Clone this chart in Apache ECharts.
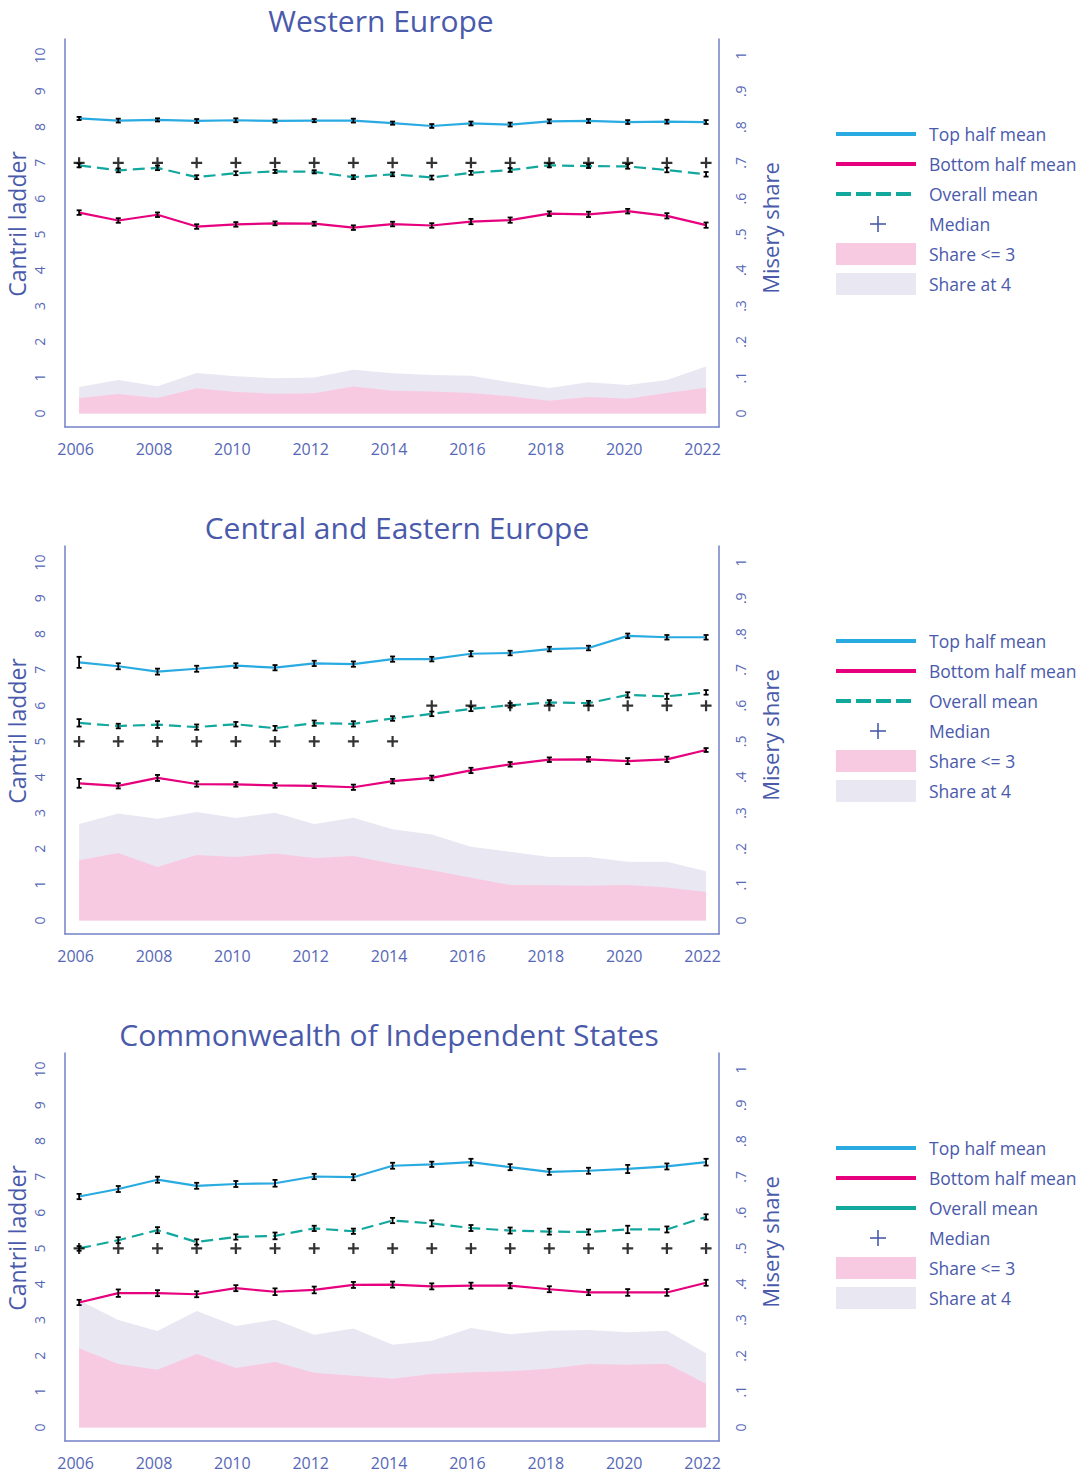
<!DOCTYPE html>
<html><head><meta charset="utf-8">
<script src="https://cdn.jsdelivr.net/npm/echarts@6/dist/echarts.min.js"></script>
<style>html,body{margin:0;padding:0;background:#fff}#c{width:1088px;height:1475px}</style>
</head><body><div id="c"></div>
<script>
// ---------- DATA ----------
const years = [2006,2007,2008,2009,2010,2011,2012,2013,2014,2015,2016,2017,2018,2019,2020,2021,2022];
const xTicks = [2006,2008,2010,2012,2014,2016,2018,2020,2022];
const ladderTicks = [0,1,2,3,4,5,6,7,8,9,10];
const shareTicks = [0,0.1,0.2,0.3,0.4,0.5,0.6,0.7,0.8,0.9,1];
const regionTitles = ['Western Europe','Central and Eastern Europe','Commonwealth of Independent States'];
const legendLabels = ['Top half mean','Bottom half mean','Overall mean','Median','Share <= 3','Share at 4'];

// Western Europe
const weTop      = [8.24,8.18,8.20,8.17,8.19,8.17,8.18,8.18,8.11,8.03,8.10,8.07,8.16,8.17,8.14,8.15,8.14];
const weTopErr   = [0.03,0.04,0.03,0.04,0.04,0.03,0.03,0.04,0.03,0.04,0.04,0.04,0.04,0.04,0.04,0.04,0.04];
const weOverall  = [6.93,6.79,6.86,6.60,6.71,6.76,6.75,6.60,6.68,6.59,6.72,6.80,6.93,6.91,6.90,6.80,6.68];
const weOverallErr=[0.04,0.04,0.05,0.04,0.04,0.03,0.03,0.04,0.04,0.04,0.04,0.04,0.04,0.04,0.05,0.05,0.05];
const weBottom   = [5.61,5.39,5.55,5.22,5.28,5.31,5.30,5.19,5.29,5.25,5.36,5.40,5.58,5.56,5.65,5.52,5.26];
const weBottomErr= [0.05,0.05,0.05,0.05,0.05,0.04,0.04,0.05,0.05,0.05,0.06,0.06,0.05,0.06,0.05,0.06,0.06];
const weMedian   = [7,7,7,7,7,7,7,7,7,7,7,7,7,7,7,7,7];
const weShare3   = [0.043,0.054,0.043,0.070,0.060,0.055,0.056,0.075,0.063,0.061,0.057,0.048,0.035,0.046,0.041,0.057,0.072];
const weShare4   = [0.031,0.039,0.033,0.043,0.044,0.043,0.044,0.047,0.049,0.046,0.048,0.039,0.036,0.041,0.038,0.036,0.059];

// Central and Eastern Europe
const ceeTop      = [7.21,7.10,6.95,7.03,7.12,7.06,7.18,7.16,7.30,7.30,7.45,7.47,7.58,7.61,7.95,7.91,7.91];
const ceeTopErr   = [0.14,0.07,0.07,0.07,0.05,0.06,0.06,0.06,0.06,0.05,0.06,0.05,0.05,0.05,0.05,0.05,0.05];
const ceeOverall  = [5.52,5.43,5.47,5.40,5.48,5.37,5.51,5.49,5.64,5.77,5.91,6.01,6.09,6.07,6.30,6.26,6.37];
const ceeOverallErr=[0.09,0.05,0.08,0.06,0.05,0.05,0.06,0.06,0.05,0.05,0.05,0.05,0.05,0.05,0.06,0.06,0.05];
const ceeBottom   = [3.83,3.76,3.98,3.81,3.80,3.77,3.76,3.72,3.89,3.98,4.19,4.36,4.49,4.50,4.45,4.50,4.76];
const ceeBottomErr= [0.11,0.06,0.07,0.06,0.05,0.05,0.05,0.06,0.05,0.05,0.06,0.05,0.05,0.05,0.07,0.06,0.04];
const ceeMedian   = [5,5,5,5,5,5,5,5,5,6,6,6,6,6,6,6,6];
const ceeShare3   = [0.168,0.188,0.149,0.183,0.177,0.187,0.174,0.180,0.158,0.140,0.119,0.099,0.098,0.097,0.099,0.092,0.079];
const ceeShare4   = [0.101,0.111,0.135,0.120,0.109,0.114,0.095,0.107,0.097,0.100,0.087,0.093,0.079,0.080,0.065,0.072,0.058];

// Commonwealth of Independent States
const cisTop      = [6.45,6.66,6.92,6.75,6.80,6.82,7.01,6.99,7.31,7.35,7.41,7.27,7.14,7.17,7.22,7.29,7.41];
const cisTopErr   = [0.06,0.07,0.07,0.07,0.07,0.08,0.06,0.07,0.07,0.06,0.08,0.07,0.07,0.07,0.10,0.07,0.08];
const cisOverall  = [5.00,5.23,5.51,5.18,5.32,5.35,5.56,5.48,5.78,5.70,5.57,5.50,5.47,5.46,5.53,5.53,5.88];
const cisOverallErr=[0.05,0.07,0.07,0.06,0.06,0.08,0.06,0.06,0.06,0.07,0.07,0.07,0.07,0.06,0.09,0.07,0.06];
const cisBottom   = [3.49,3.75,3.75,3.72,3.89,3.79,3.84,3.98,3.99,3.94,3.96,3.96,3.86,3.77,3.77,3.77,4.04];
const cisBottomErr= [0.06,0.09,0.07,0.07,0.07,0.08,0.08,0.07,0.07,0.07,0.07,0.06,0.07,0.06,0.08,0.08,0.07];
const cisMedian   = [5,5,5,5,5,5,5,5,5,5,5,5,5,5,5,5,5];
const cisShare3   = [0.221,0.177,0.161,0.205,0.166,0.183,0.153,0.144,0.136,0.149,0.154,0.157,0.164,0.177,0.175,0.178,0.122];
const cisShare4   = [0.134,0.123,0.108,0.120,0.117,0.118,0.106,0.132,0.095,0.093,0.124,0.103,0.106,0.095,0.091,0.092,0.085];

// ---------- BUILD ----------
const regions = [
  {top:weTop, topErr:weTopErr, overall:weOverall, overallErr:weOverallErr, bottom:weBottom, bottomErr:weBottomErr, median:weMedian, s3:weShare3, s4:weShare4, dashedLegend:true},
  {top:ceeTop, topErr:ceeTopErr, overall:ceeOverall, overallErr:ceeOverallErr, bottom:ceeBottom, bottomErr:ceeBottomErr, median:ceeMedian, s3:ceeShare3, s4:ceeShare4, dashedLegend:true},
  {top:cisTop, topErr:cisTopErr, overall:cisOverall, overallErr:cisOverallErr, bottom:cisBottom, bottomErr:cisBottomErr, median:cisMedian, s3:cisShare3, s4:cisShare4, dashedLegend:false}
];

const FONT = '"Open Sans", "Noto Sans", sans-serif';
const C_TEXT = '#4a5aab';
const C_LABEL = '#5667b6';
const C_AXIS = '#7381c6';
const C_TOP = '#29abe2';
const C_BOT = '#e6007e';
const C_OVR = '#13a89e';
const C_PINK = '#f8cae2';
const C_LAV = '#e9e7f2';

const gridTops = [39, 546, 1053];
const titleCenters = [381, 397, 389];
const GRID_H = 388;

const option = {
  animation: false,
  backgroundColor: '#fff',
  title: [], grid: [], xAxis: [], yAxis: [], series: [], graphic: []
};

function pairs(vals){ return years.map((y,i)=>[y, vals[i]]); }
function stackedPairs(a, b){ return years.map((y,i)=>[y, a[i] + b[i]]); }
function errData(vals, errs){ return years.map((y,i)=>[y, vals[i], errs[i]]); }

function errorRender(params, api){
  const x = api.value(0), y = api.value(1), e = api.value(2);
  const hi = api.coord([x, y + e]);
  const lo = api.coord([x, y - e]);
  const w = 2.5;
  const st = {stroke:'#000', lineWidth:1.8};
  return {type:'group', children:[
    {type:'line', shape:{x1:hi[0], y1:hi[1]-0.5, x2:lo[0], y2:lo[1]+0.5}, style:st},
    {type:'line', shape:{x1:hi[0]-w, y1:hi[1]-0.5, x2:hi[0]+w, y2:hi[1]-0.5}, style:st},
    {type:'line', shape:{x1:lo[0]-w, y1:lo[1]+0.5, x2:lo[0]+w, y2:lo[1]+0.5}, style:st}
  ]};
}

const PLUS = 'path://M4,0h2v4h4v2h-4v4h-2v-4h-4v-2h4z';

regions.forEach((r, i) => {
  const top = gridTops[i];
  option.title.push({
    text: regionTitles[i], left: titleCenters[i], top: top - 35, textAlign: 'center', padding: 0,
    textStyle: {fontFamily: FONT, fontSize: 30, lineHeight: 32, fontWeight: 'normal', color: C_TEXT}
  });
  option.grid.push({left: 65, width: 654, top: top, height: GRID_H, outerBoundsMode: 'none', containLabel: false});
  option.xAxis.push({
    type: 'value', gridIndex: i, min: 2005.64, max: 2022.33,
    axisLine: {show: true, onZero: false, lineStyle: {color: C_AXIS, width: 1.5}},
    axisTick: {show: false}, splitLine: {show: false},
    axisLabel: {customValues: xTicks, formatter: v => String(v), color: C_LABEL, fontFamily: FONT, fontSize: 16, margin: 14, padding: [0, 7, 0, 0]}
  });
  option.yAxis.push({
    type: 'value', gridIndex: i, min: -0.38, max: 10.46, position: 'left',
    name: 'Cantril ladder', nameLocation: 'middle', nameGap: 37, nameMoveOverlap: false,
    nameTextStyle: {fontFamily: FONT, fontSize: 23, color: C_TEXT, padding: [0, 0, 0, 18]},
    axisLine: {show: true, onZero: false, lineStyle: {color: C_AXIS, width: 1.5}},
    axisTick: {show: false}, splitLine: {show: false},
    axisLabel: {customValues: ladderTicks, rotate: 90, color: C_LABEL, fontFamily: FONT, fontSize: 14, margin: 19}
  });
  option.yAxis.push({
    type: 'value', gridIndex: i, min: -0.038, max: 1.046, position: 'right',
    name: 'Misery share', nameLocation: 'middle', nameGap: 40, nameMoveOverlap: false,
    nameTextStyle: {fontFamily: FONT, fontSize: 22, color: C_TEXT, padding: [0, 0, 0, 10]},
    axisLine: {show: true, onZero: false, lineStyle: {color: C_AXIS, width: 1.5}},
    axisTick: {show: false}, splitLine: {show: false},
    axisLabel: {customValues: shareTicks, rotate: 90, color: C_LABEL, fontFamily: FONT, fontSize: 14, margin: 14,
      formatter: v => v === 0 ? '0' : (v === 1 ? '1' : String(v).replace(/^0/, ''))}
  });
  const ly = 2*i, ry = 2*i + 1;
  // areas: "Share at 4" sits on top of "Share <= 3"
  option.series.push({
    name: 'Share at 4', type: 'line', xAxisIndex: i, yAxisIndex: ry,
    data: stackedPairs(r.s3, r.s4), showSymbol: false, symbol: 'none', lineStyle: {width: 0},
    areaStyle: {color: C_LAV, opacity: 1}, z: 1
  });
  option.series.push({
    name: 'Share <= 3', type: 'line', xAxisIndex: i, yAxisIndex: ry,
    data: pairs(r.s3), showSymbol: false, symbol: 'none', lineStyle: {width: 0},
    areaStyle: {color: C_PINK, opacity: 1}, z: 2
  });
  // lines
  const lineDefs = [
    ['Top half mean', r.top, r.topErr, C_TOP, 'solid'],
    ['Bottom half mean', r.bottom, r.bottomErr, C_BOT, 'solid'],
    ['Overall mean', r.overall, r.overallErr, C_OVR, [12, 6]]
  ];
  lineDefs.forEach(d => {
    option.series.push({
      name: d[0], type: 'line', xAxisIndex: i, yAxisIndex: ly, data: pairs(d[1]),
      showSymbol: false, symbol: 'none', lineStyle: {color: d[3], width: 2.2, type: d[4]}, z: 3
    });
    option.series.push({
      name: d[0] + ' CI', type: 'custom', xAxisIndex: i, yAxisIndex: ly,
      data: errData(d[1], d[2]), renderItem: errorRender, z: 4
    });
  });
  option.series.push({
    name: 'Median', type: 'scatter', xAxisIndex: i, yAxisIndex: ly, data: pairs(r.median),
    symbol: PLUS, symbolSize: 11, itemStyle: {color: '#000'}, z: 5
  });

  // legend (drawn)
  const dy = top - 39;
  const rows = [134, 164, 194, 224, 254, 284].map(v => v + dy);
  const lx1 = 836, lx2 = 916;
  option.graphic.push(
    {type:'line', shape:{x1:lx1, y1:rows[0], x2:lx2, y2:rows[0]}, style:{stroke:C_TOP, lineWidth:4}},
    {type:'line', shape:{x1:lx1, y1:rows[1], x2:lx2, y2:rows[1]}, style:{stroke:C_BOT, lineWidth:4}},
    {type:'line', shape:{x1:lx1, y1:rows[2], x2:lx2, y2:rows[2]}, style:{stroke:C_OVR, lineWidth:4, lineDash: r.dashedLegend ? [15, 5] : null}},
    {type:'line', shape:{x1:878-8, y1:rows[3], x2:878+8, y2:rows[3]}, style:{stroke:C_TEXT, lineWidth:1.6}},
    {type:'line', shape:{x1:878, y1:rows[3]-8, x2:878, y2:rows[3]+8}, style:{stroke:C_TEXT, lineWidth:1.6}},
    {type:'rect', shape:{x:lx1, y:rows[4]-11, width:80, height:22}, style:{fill:C_PINK}},
    {type:'rect', shape:{x:lx1, y:rows[5]-11, width:80, height:22}, style:{fill:C_LAV}}
  );
  legendLabels.forEach((t, k) => {
    option.graphic.push({type:'text', x: 929, y: rows[k], style:{text: t, fill: C_TEXT, font: '17.5px ' + FONT, textVerticalAlign: 'middle', verticalAlign: 'middle'}});
  });
});

const chart = echarts.init(document.getElementById('c'), null, {renderer: 'svg'});
chart.setOption(option);
</script>
</body></html>
